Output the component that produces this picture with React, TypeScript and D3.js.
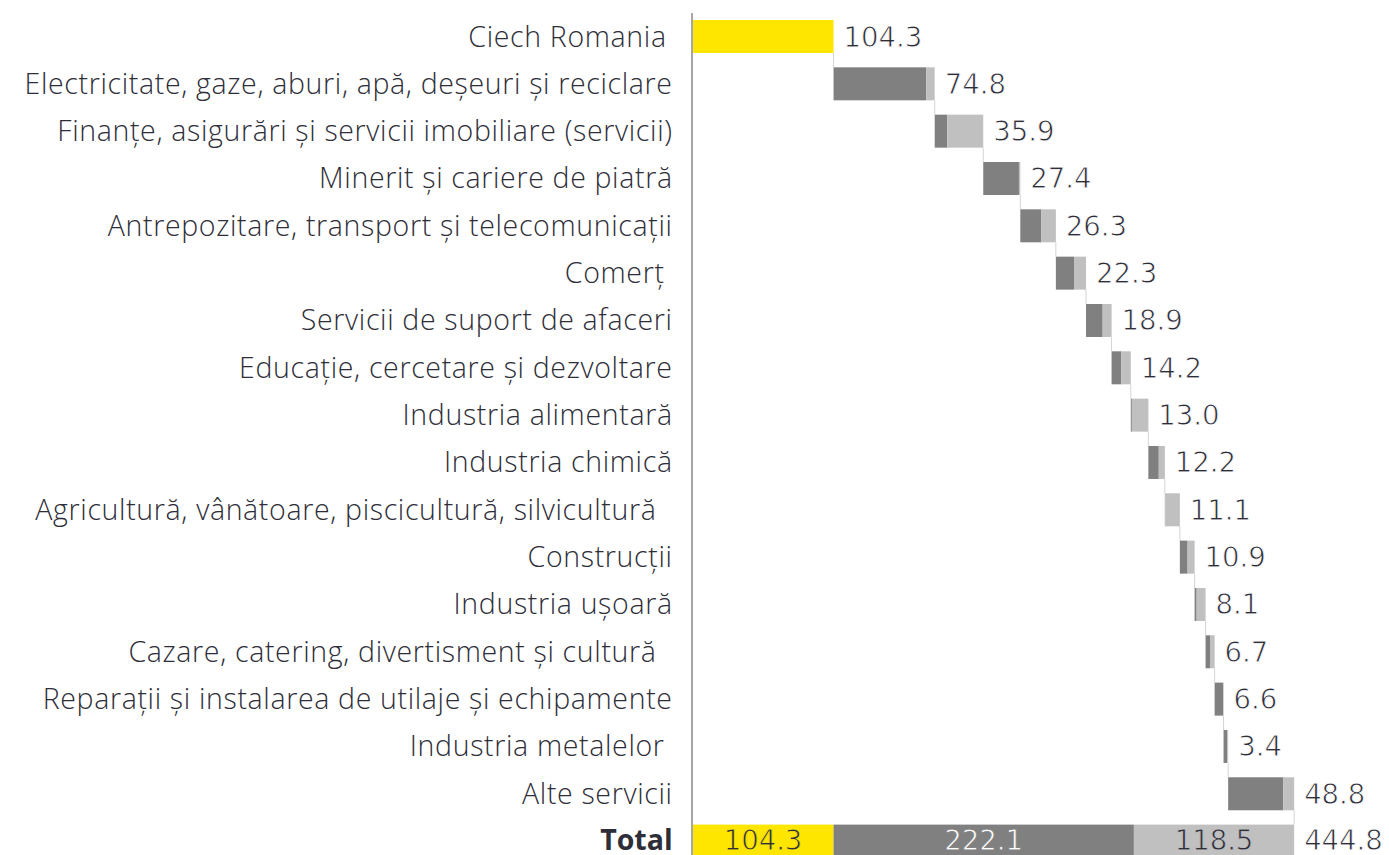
import React from "react";
import * as d3 from "d3";

const startLabel = "Ciech Romania";
const startValue = 104.3;

const categories = [
  "Electricitate, gaze, aburi, apă, deșeuri și reciclare",
  "Finanțe, asigurări și servicii imobiliare (servicii)",
  "Minerit și cariere de piatră",
  "Antrepozitare, transport și telecomunicații",
  "Comerț ",
  "Servicii de suport de afaceri",
  "Educație, cercetare și dezvoltare",
  "Industria alimentară",
  "Industria chimică",
  "Agricultură, vânătoare, piscicultură, silvicultură  ",
  "Construcții",
  "Industria ușoară",
  "Cazare, catering, divertisment și cultură  ",
  "Reparații și instalarea de utilaje și echipamente",
  "Industria metalelor ",
  "Alte servicii",
];

const itemTotals = [74.8, 35.9, 27.4, 26.3, 22.3, 18.9, 14.2, 13.0, 12.2, 11.1, 10.9, 8.1, 6.7, 6.6, 3.4, 48.8];
const darkValues = [68.5, 9.3, 26.4, 15.6, 13.4, 12.3, 7.2, 0.8, 7.7, 0.4, 5.7, 1.5, 3.3, 6.4, 2.8, 40.8];
const lightValues = [6.3, 26.6, 1.0, 10.7, 8.9, 6.6, 7.0, 12.2, 4.5, 10.7, 5.2, 6.6, 3.4, 0.2, 0.6, 8.0];

const totalLabel = "Total";
const totalParts = [104.3, 222.1, 118.5];
const grandTotal = 444.8;

const YELLOW = "#FFE600";
const DARK = "#808080";
const LIGHT = "#C0C0C0";
const TEXT = "#2E2E38";
const CAT_FONT = "'Open Sans', sans-serif";
const NUM_FONT = "'DejaVu Sans', sans-serif";
const NUM_SIZE = 27.5;
const LS = 0.65;

export default function App() {
  const W = 1389;
  const H = 855;
  const rows = [startLabel, ...categories, totalLabel];
  const step = 47.33;
  const y = d3
    .scaleBand<string>()
    .domain(rows)
    .range([20, 20 + rows.length * step - (step - 33)])
    .paddingInner(1 - 33 / step)
    .paddingOuter(0);
  const x = d3.scaleLinear().domain([0, 500]).range([692.5, 692.5 + 500 * 1.3523]);
  const bh = y.bandwidth();

  const starts: number[] = [];
  let cum = startValue;
  categories.forEach((_, i) => {
    starts.push(cum);
    cum += darkValues[i] + lightValues[i];
  });

  const connectors: { x: number; y1: number; y2: number }[] = [];
  connectors.push({ x: x(startValue), y1: y(startLabel)! + bh, y2: y(categories[0])! });
  categories.forEach((c, i) => {
    const end = starts[i] + darkValues[i] + lightValues[i];
    const next = i < categories.length - 1 ? categories[i + 1] : totalLabel;
    connectors.push({ x: x(end), y1: y(c)! + bh, y2: y(next)! });
  });

  const totalStarts = [0, totalParts[0], totalParts[0] + totalParts[1]];
  const totalColors = [YELLOW, DARK, LIGHT];
  const totalTextColors = [TEXT, "#FFFFFF", TEXT];

  const numProps = (bg: string) => ({
    fontFamily: NUM_FONT,
    fontSize: NUM_SIZE,
    stroke: bg,
    strokeWidth: 0.8,
  });

  return (
    <svg width={W} height={H} style={{ position: "absolute", left: 0, top: 0, background: "#fff" }}>
      {connectors.map((c, i) => (
        <line key={"c" + i} x1={c.x} x2={c.x} y1={c.y1} y2={c.y2} stroke="#D4D4D4" strokeWidth={1} />
      ))}
      <rect x={x(0)} y={y(startLabel)} width={x(startValue) - x(0)} height={bh} fill={YELLOW} />
      <text x={x(startValue) + 10} y={y(startLabel)! + bh / 2 + 10} fill={TEXT} {...numProps("#fff")}>
        {startValue.toFixed(1)}
      </text>
      {categories.map((c, i) => {
        const y0 = y(c)!;
        const s = starts[i];
        const d = darkValues[i];
        const l = lightValues[i];
        return (
          <g key={c}>
            <rect x={x(s)} y={y0} width={x(s + d) - x(s)} height={bh} fill={DARK} />
            <rect x={x(s + d)} y={y0} width={x(s + d + l) - x(s + d)} height={bh} fill={LIGHT} />
            <text x={x(s + d + l) + 10} y={y0 + bh / 2 + 10} fill={TEXT} {...numProps("#fff")}>
              {itemTotals[i].toFixed(1)}
            </text>
          </g>
        );
      })}
      {totalParts.map((v, i) => {
        const y0 = y(totalLabel)!;
        const x0 = x(totalStarts[i]);
        const x1 = x(totalStarts[i] + v);
        return (
          <g key={"t" + i}>
            <rect x={x0} y={y0} width={x1 - x0} height={bh} fill={totalColors[i]} />
            <text
              x={(x0 + x1) / 2}
              y={y0 + bh / 2 + 9}
              textAnchor="middle"
              fill={totalTextColors[i]}
              {...numProps(totalColors[i])}
            >
              {v.toFixed(1)}
            </text>
          </g>
        );
      })}
      <text
        x={x(totalStarts[2] + totalParts[2]) + 10}
        y={y(totalLabel)! + bh / 2 + 9}
        fill={TEXT}
        {...numProps("#fff")}
      >
        {grandTotal.toFixed(1)}
      </text>
      {rows.map((r) => (
        <text
          key={"l" + r}
          x={(r === startLabel ? 666 : 672) + LS}
          y={y(r)! + bh / 2 + (r === totalLabel ? 9 : 10)}
          textAnchor="end"
          fontFamily={CAT_FONT}
          fontSize={28.5}
          fontWeight={r === totalLabel ? 700 : 300}
          letterSpacing={r === totalLabel ? 0 : LS}
          fill={TEXT}
          style={{ whiteSpace: "pre" }}
        >
          {r}
        </text>
      ))}
      <line x1={692} x2={692} y1={13} y2={H} stroke="#A6A6A6" strokeWidth={2} />
    </svg>
  );
}
